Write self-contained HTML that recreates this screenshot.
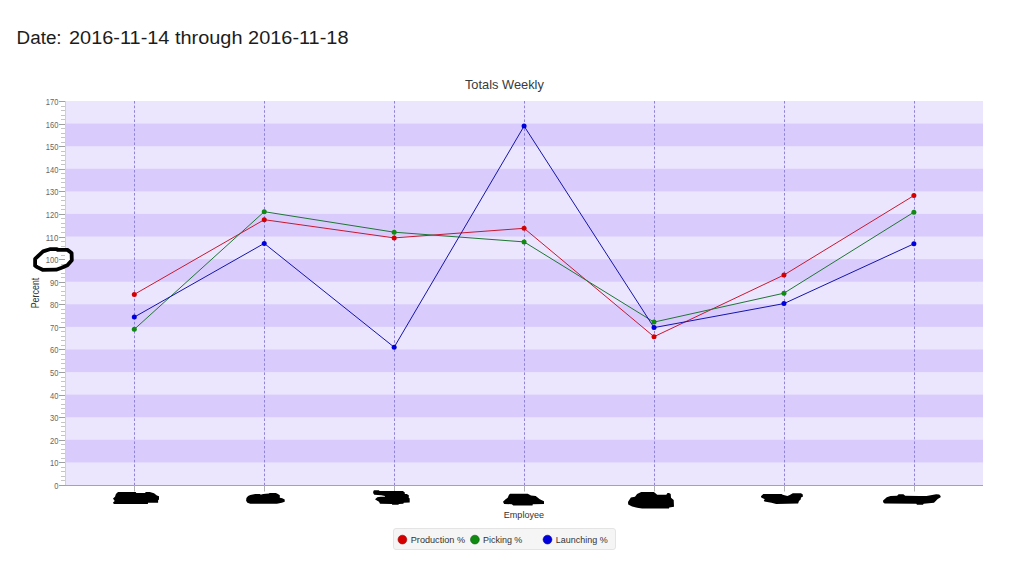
<!DOCTYPE html><html><head><meta charset="utf-8"><title>Totals Weekly</title><style>html,body{margin:0;padding:0;background:#fff;overflow:hidden}svg{display:block}text{font-family:"Liberation Sans",Arial,sans-serif}</style></head><body>
<svg width="1017" height="562" viewBox="0 0 1017 562">
<rect width="1017" height="562" fill="#fff"/>
<text x="16.6" y="43.9" font-size="18" fill="#1c1c1c" textLength="45" lengthAdjust="spacingAndGlyphs">Date:</text>
<text x="69" y="43.9" font-size="18" fill="#1c1c1c" textLength="279.5" lengthAdjust="spacingAndGlyphs">2016-11-14 through 2016-11-18</text>
<text x="464.9" y="88.9" font-size="12.4" fill="#3a3a3a" textLength="79" lengthAdjust="spacingAndGlyphs">Totals Weekly</text>
<rect x="65" y="101" width="918" height="384" fill="#ebe5fd"/>
<rect x="65" y="439.82" width="918" height="22.59" fill="#d9ccfc"/>
<rect x="65" y="394.65" width="918" height="22.59" fill="#d9ccfc"/>
<rect x="65" y="349.47" width="918" height="22.59" fill="#d9ccfc"/>
<rect x="65" y="304.29" width="918" height="22.59" fill="#d9ccfc"/>
<rect x="65" y="259.12" width="918" height="22.59" fill="#d9ccfc"/>
<rect x="65" y="213.94" width="918" height="22.59" fill="#d9ccfc"/>
<rect x="65" y="168.76" width="918" height="22.59" fill="#d9ccfc"/>
<rect x="65" y="123.59" width="918" height="22.59" fill="#d9ccfc"/>
<line x1="134.5" y1="101" x2="134.5" y2="485" stroke="#9084d8" stroke-width="1" stroke-dasharray="2.6,2"/>
<line x1="264.5" y1="101" x2="264.5" y2="485" stroke="#9084d8" stroke-width="1" stroke-dasharray="2.6,2"/>
<line x1="394.5" y1="101" x2="394.5" y2="485" stroke="#9084d8" stroke-width="1" stroke-dasharray="2.6,2"/>
<line x1="524.5" y1="101" x2="524.5" y2="485" stroke="#9084d8" stroke-width="1" stroke-dasharray="2.6,2"/>
<line x1="654.5" y1="101" x2="654.5" y2="485" stroke="#9084d8" stroke-width="1" stroke-dasharray="2.6,2"/>
<line x1="784.5" y1="101" x2="784.5" y2="485" stroke="#9084d8" stroke-width="1" stroke-dasharray="2.6,2"/>
<line x1="914.5" y1="101" x2="914.5" y2="485" stroke="#9084d8" stroke-width="1" stroke-dasharray="2.6,2"/>
<line x1="65" y1="485.5" x2="983" y2="485.5" stroke="#a4a2b0" stroke-width="1"/>
<line x1="65.5" y1="101" x2="65.5" y2="485" stroke="#d0cce6" stroke-width="1"/>
<line x1="59" y1="485.50" x2="65" y2="485.50" stroke="#a0a0a0" stroke-width="1"/>
<line x1="61" y1="480.50" x2="65" y2="480.50" stroke="#c4c4c4" stroke-width="1"/>
<line x1="61" y1="476.50" x2="65" y2="476.50" stroke="#c4c4c4" stroke-width="1"/>
<line x1="61" y1="471.50" x2="65" y2="471.50" stroke="#c4c4c4" stroke-width="1"/>
<line x1="61" y1="467.50" x2="65" y2="467.50" stroke="#c4c4c4" stroke-width="1"/>
<line x1="59" y1="462.50" x2="65" y2="462.50" stroke="#a0a0a0" stroke-width="1"/>
<line x1="61" y1="458.50" x2="65" y2="458.50" stroke="#c4c4c4" stroke-width="1"/>
<line x1="61" y1="453.50" x2="65" y2="453.50" stroke="#c4c4c4" stroke-width="1"/>
<line x1="61" y1="449.50" x2="65" y2="449.50" stroke="#c4c4c4" stroke-width="1"/>
<line x1="61" y1="444.50" x2="65" y2="444.50" stroke="#c4c4c4" stroke-width="1"/>
<line x1="59" y1="440.50" x2="65" y2="440.50" stroke="#a0a0a0" stroke-width="1"/>
<line x1="61" y1="435.50" x2="65" y2="435.50" stroke="#c4c4c4" stroke-width="1"/>
<line x1="61" y1="431.50" x2="65" y2="431.50" stroke="#c4c4c4" stroke-width="1"/>
<line x1="61" y1="426.50" x2="65" y2="426.50" stroke="#c4c4c4" stroke-width="1"/>
<line x1="61" y1="422.50" x2="65" y2="422.50" stroke="#c4c4c4" stroke-width="1"/>
<line x1="59" y1="417.50" x2="65" y2="417.50" stroke="#a0a0a0" stroke-width="1"/>
<line x1="61" y1="413.50" x2="65" y2="413.50" stroke="#c4c4c4" stroke-width="1"/>
<line x1="61" y1="408.50" x2="65" y2="408.50" stroke="#c4c4c4" stroke-width="1"/>
<line x1="61" y1="404.50" x2="65" y2="404.50" stroke="#c4c4c4" stroke-width="1"/>
<line x1="61" y1="399.50" x2="65" y2="399.50" stroke="#c4c4c4" stroke-width="1"/>
<line x1="59" y1="395.50" x2="65" y2="395.50" stroke="#a0a0a0" stroke-width="1"/>
<line x1="61" y1="390.50" x2="65" y2="390.50" stroke="#c4c4c4" stroke-width="1"/>
<line x1="61" y1="386.50" x2="65" y2="386.50" stroke="#c4c4c4" stroke-width="1"/>
<line x1="61" y1="381.50" x2="65" y2="381.50" stroke="#c4c4c4" stroke-width="1"/>
<line x1="61" y1="377.50" x2="65" y2="377.50" stroke="#c4c4c4" stroke-width="1"/>
<line x1="59" y1="372.50" x2="65" y2="372.50" stroke="#a0a0a0" stroke-width="1"/>
<line x1="61" y1="368.50" x2="65" y2="368.50" stroke="#c4c4c4" stroke-width="1"/>
<line x1="61" y1="363.50" x2="65" y2="363.50" stroke="#c4c4c4" stroke-width="1"/>
<line x1="61" y1="359.50" x2="65" y2="359.50" stroke="#c4c4c4" stroke-width="1"/>
<line x1="61" y1="354.50" x2="65" y2="354.50" stroke="#c4c4c4" stroke-width="1"/>
<line x1="59" y1="349.50" x2="65" y2="349.50" stroke="#a0a0a0" stroke-width="1"/>
<line x1="61" y1="345.50" x2="65" y2="345.50" stroke="#c4c4c4" stroke-width="1"/>
<line x1="61" y1="340.50" x2="65" y2="340.50" stroke="#c4c4c4" stroke-width="1"/>
<line x1="61" y1="336.50" x2="65" y2="336.50" stroke="#c4c4c4" stroke-width="1"/>
<line x1="61" y1="331.50" x2="65" y2="331.50" stroke="#c4c4c4" stroke-width="1"/>
<line x1="59" y1="327.50" x2="65" y2="327.50" stroke="#a0a0a0" stroke-width="1"/>
<line x1="61" y1="322.50" x2="65" y2="322.50" stroke="#c4c4c4" stroke-width="1"/>
<line x1="61" y1="318.50" x2="65" y2="318.50" stroke="#c4c4c4" stroke-width="1"/>
<line x1="61" y1="313.50" x2="65" y2="313.50" stroke="#c4c4c4" stroke-width="1"/>
<line x1="61" y1="309.50" x2="65" y2="309.50" stroke="#c4c4c4" stroke-width="1"/>
<line x1="59" y1="304.50" x2="65" y2="304.50" stroke="#a0a0a0" stroke-width="1"/>
<line x1="61" y1="300.50" x2="65" y2="300.50" stroke="#c4c4c4" stroke-width="1"/>
<line x1="61" y1="295.50" x2="65" y2="295.50" stroke="#c4c4c4" stroke-width="1"/>
<line x1="61" y1="291.50" x2="65" y2="291.50" stroke="#c4c4c4" stroke-width="1"/>
<line x1="61" y1="286.50" x2="65" y2="286.50" stroke="#c4c4c4" stroke-width="1"/>
<line x1="59" y1="282.50" x2="65" y2="282.50" stroke="#a0a0a0" stroke-width="1"/>
<line x1="61" y1="277.50" x2="65" y2="277.50" stroke="#c4c4c4" stroke-width="1"/>
<line x1="61" y1="273.50" x2="65" y2="273.50" stroke="#c4c4c4" stroke-width="1"/>
<line x1="61" y1="268.50" x2="65" y2="268.50" stroke="#c4c4c4" stroke-width="1"/>
<line x1="61" y1="264.50" x2="65" y2="264.50" stroke="#c4c4c4" stroke-width="1"/>
<line x1="59" y1="259.50" x2="65" y2="259.50" stroke="#a0a0a0" stroke-width="1"/>
<line x1="61" y1="255.50" x2="65" y2="255.50" stroke="#c4c4c4" stroke-width="1"/>
<line x1="61" y1="250.50" x2="65" y2="250.50" stroke="#c4c4c4" stroke-width="1"/>
<line x1="61" y1="246.50" x2="65" y2="246.50" stroke="#c4c4c4" stroke-width="1"/>
<line x1="61" y1="241.50" x2="65" y2="241.50" stroke="#c4c4c4" stroke-width="1"/>
<line x1="59" y1="237.50" x2="65" y2="237.50" stroke="#a0a0a0" stroke-width="1"/>
<line x1="61" y1="232.50" x2="65" y2="232.50" stroke="#c4c4c4" stroke-width="1"/>
<line x1="61" y1="227.50" x2="65" y2="227.50" stroke="#c4c4c4" stroke-width="1"/>
<line x1="61" y1="223.50" x2="65" y2="223.50" stroke="#c4c4c4" stroke-width="1"/>
<line x1="61" y1="218.50" x2="65" y2="218.50" stroke="#c4c4c4" stroke-width="1"/>
<line x1="59" y1="214.50" x2="65" y2="214.50" stroke="#a0a0a0" stroke-width="1"/>
<line x1="61" y1="209.50" x2="65" y2="209.50" stroke="#c4c4c4" stroke-width="1"/>
<line x1="61" y1="205.50" x2="65" y2="205.50" stroke="#c4c4c4" stroke-width="1"/>
<line x1="61" y1="200.50" x2="65" y2="200.50" stroke="#c4c4c4" stroke-width="1"/>
<line x1="61" y1="196.50" x2="65" y2="196.50" stroke="#c4c4c4" stroke-width="1"/>
<line x1="59" y1="191.50" x2="65" y2="191.50" stroke="#a0a0a0" stroke-width="1"/>
<line x1="61" y1="187.50" x2="65" y2="187.50" stroke="#c4c4c4" stroke-width="1"/>
<line x1="61" y1="182.50" x2="65" y2="182.50" stroke="#c4c4c4" stroke-width="1"/>
<line x1="61" y1="178.50" x2="65" y2="178.50" stroke="#c4c4c4" stroke-width="1"/>
<line x1="61" y1="173.50" x2="65" y2="173.50" stroke="#c4c4c4" stroke-width="1"/>
<line x1="59" y1="169.50" x2="65" y2="169.50" stroke="#a0a0a0" stroke-width="1"/>
<line x1="61" y1="164.50" x2="65" y2="164.50" stroke="#c4c4c4" stroke-width="1"/>
<line x1="61" y1="160.50" x2="65" y2="160.50" stroke="#c4c4c4" stroke-width="1"/>
<line x1="61" y1="155.50" x2="65" y2="155.50" stroke="#c4c4c4" stroke-width="1"/>
<line x1="61" y1="151.50" x2="65" y2="151.50" stroke="#c4c4c4" stroke-width="1"/>
<line x1="59" y1="146.50" x2="65" y2="146.50" stroke="#a0a0a0" stroke-width="1"/>
<line x1="61" y1="142.50" x2="65" y2="142.50" stroke="#c4c4c4" stroke-width="1"/>
<line x1="61" y1="137.50" x2="65" y2="137.50" stroke="#c4c4c4" stroke-width="1"/>
<line x1="61" y1="133.50" x2="65" y2="133.50" stroke="#c4c4c4" stroke-width="1"/>
<line x1="61" y1="128.50" x2="65" y2="128.50" stroke="#c4c4c4" stroke-width="1"/>
<line x1="59" y1="124.50" x2="65" y2="124.50" stroke="#a0a0a0" stroke-width="1"/>
<line x1="61" y1="119.50" x2="65" y2="119.50" stroke="#c4c4c4" stroke-width="1"/>
<line x1="61" y1="115.50" x2="65" y2="115.50" stroke="#c4c4c4" stroke-width="1"/>
<line x1="61" y1="110.50" x2="65" y2="110.50" stroke="#c4c4c4" stroke-width="1"/>
<line x1="61" y1="106.50" x2="65" y2="106.50" stroke="#c4c4c4" stroke-width="1"/>
<line x1="59" y1="101.50" x2="65" y2="101.50" stroke="#a0a0a0" stroke-width="1"/>
<text x="58.4" y="488.60" font-size="8.2" fill="#666" text-anchor="end" textLength="4.2" lengthAdjust="spacingAndGlyphs">0</text>
<text x="58.4" y="465.60" font-size="8.2" fill="#666" text-anchor="end" textLength="8.4" lengthAdjust="spacingAndGlyphs">10</text>
<text x="58.4" y="443.60" font-size="8.2" fill="#666" text-anchor="end" textLength="8.4" lengthAdjust="spacingAndGlyphs">20</text>
<text x="58.4" y="420.60" font-size="8.2" fill="#666" text-anchor="end" textLength="8.4" lengthAdjust="spacingAndGlyphs">30</text>
<text x="58.4" y="398.60" font-size="8.2" fill="#666" text-anchor="end" textLength="8.4" lengthAdjust="spacingAndGlyphs">40</text>
<text x="58.4" y="375.60" font-size="8.2" fill="#666" text-anchor="end" textLength="8.4" lengthAdjust="spacingAndGlyphs">50</text>
<text x="58.4" y="352.60" font-size="8.2" fill="#666" text-anchor="end" textLength="8.4" lengthAdjust="spacingAndGlyphs">60</text>
<text x="58.4" y="330.60" font-size="8.2" fill="#666" text-anchor="end" textLength="8.4" lengthAdjust="spacingAndGlyphs">70</text>
<text x="58.4" y="307.60" font-size="8.2" fill="#666" text-anchor="end" textLength="8.4" lengthAdjust="spacingAndGlyphs">80</text>
<text x="58.4" y="285.60" font-size="8.2" fill="#666" text-anchor="end" textLength="8.4" lengthAdjust="spacingAndGlyphs">90</text>
<text x="58.4" y="262.60" font-size="8.2" fill="#666" text-anchor="end" textLength="12.6" lengthAdjust="spacingAndGlyphs">100</text>
<text x="58.4" y="240.60" font-size="8.2" fill="#666" text-anchor="end" textLength="12.6" lengthAdjust="spacingAndGlyphs">110</text>
<text x="58.4" y="217.60" font-size="8.2" fill="#666" text-anchor="end" textLength="12.6" lengthAdjust="spacingAndGlyphs">120</text>
<text x="58.4" y="194.60" font-size="8.2" fill="#666" text-anchor="end" textLength="12.6" lengthAdjust="spacingAndGlyphs">130</text>
<text x="58.4" y="172.60" font-size="8.2" fill="#666" text-anchor="end" textLength="12.6" lengthAdjust="spacingAndGlyphs">140</text>
<text x="58.4" y="149.60" font-size="8.2" fill="#666" text-anchor="end" textLength="12.6" lengthAdjust="spacingAndGlyphs">150</text>
<text x="58.4" y="127.60" font-size="8.2" fill="#666" text-anchor="end" textLength="12.6" lengthAdjust="spacingAndGlyphs">160</text>
<text x="58.4" y="104.60" font-size="8.2" fill="#666" text-anchor="end" textLength="12.6" lengthAdjust="spacingAndGlyphs">170</text>
<line x1="134.5" y1="485" x2="134.5" y2="491.5" stroke="#b0b0b0" stroke-width="1"/>
<line x1="264.5" y1="485" x2="264.5" y2="491.5" stroke="#b0b0b0" stroke-width="1"/>
<line x1="394.5" y1="485" x2="394.5" y2="491.5" stroke="#b0b0b0" stroke-width="1"/>
<line x1="524.5" y1="485" x2="524.5" y2="491.5" stroke="#b0b0b0" stroke-width="1"/>
<line x1="654.5" y1="485" x2="654.5" y2="491.5" stroke="#b0b0b0" stroke-width="1"/>
<line x1="784.5" y1="485" x2="784.5" y2="491.5" stroke="#b0b0b0" stroke-width="1"/>
<line x1="914.5" y1="485" x2="914.5" y2="491.5" stroke="#b0b0b0" stroke-width="1"/>
<text transform="translate(38.7,308.3) rotate(-90)" font-size="10" fill="#333" textLength="30.6" lengthAdjust="spacingAndGlyphs">Percent</text>
<text x="503.8" y="517.7" font-size="8.9" fill="#333" textLength="40.2" lengthAdjust="spacingAndGlyphs">Employee</text>
<polyline points="134.30,294.40 264.23,219.70 394.16,237.90 524.09,228.30 654.02,336.70 783.95,275.00 913.88,195.60" fill="none" stroke="#c81830" stroke-width="1" stroke-linejoin="round"/>
<polyline points="134.30,329.30 264.23,211.70 394.16,232.20 524.09,241.90 654.02,322.10 783.95,293.20 913.88,212.20" fill="none" stroke="#1e7634" stroke-width="1" stroke-linejoin="round"/>
<polyline points="134.30,317.10 264.23,243.40 394.16,347.20 524.09,126.10 654.02,327.60 783.95,303.60 913.88,243.80" fill="none" stroke="#1414ac" stroke-width="1" stroke-linejoin="round"/>
<circle cx="134.30" cy="294.40" r="2.5" fill="#d40000"/>
<circle cx="264.23" cy="219.70" r="2.5" fill="#d40000"/>
<circle cx="394.16" cy="237.90" r="2.5" fill="#d40000"/>
<circle cx="524.09" cy="228.30" r="2.5" fill="#d40000"/>
<circle cx="654.02" cy="336.70" r="2.5" fill="#d40000"/>
<circle cx="783.95" cy="275.00" r="2.5" fill="#d40000"/>
<circle cx="913.88" cy="195.60" r="2.5" fill="#d40000"/>
<circle cx="134.30" cy="329.30" r="2.5" fill="#108a10"/>
<circle cx="264.23" cy="211.70" r="2.5" fill="#108a10"/>
<circle cx="394.16" cy="232.20" r="2.5" fill="#108a10"/>
<circle cx="524.09" cy="241.90" r="2.5" fill="#108a10"/>
<circle cx="654.02" cy="322.10" r="2.5" fill="#108a10"/>
<circle cx="783.95" cy="293.20" r="2.5" fill="#108a10"/>
<circle cx="913.88" cy="212.20" r="2.5" fill="#108a10"/>
<circle cx="134.30" cy="317.10" r="2.5" fill="#0000dc"/>
<circle cx="264.23" cy="243.40" r="2.5" fill="#0000dc"/>
<circle cx="394.16" cy="347.20" r="2.5" fill="#0000dc"/>
<circle cx="524.09" cy="126.10" r="2.5" fill="#0000dc"/>
<circle cx="654.02" cy="327.60" r="2.5" fill="#0000dc"/>
<circle cx="783.95" cy="303.60" r="2.5" fill="#0000dc"/>
<circle cx="913.88" cy="243.80" r="2.5" fill="#0000dc"/>
<path d="M118.0,492.1 L135.7,492.1 L136.3,493.0 L145.1,493.0 L145.7,492.1 L149.8,492.1 L154.0,493.3 L156.9,495.6 L159.0,496.2 L159.0,499.5 L158.1,500.2 L158.1,502.7 L148.1,502.7 L147.8,503.9 L113.8,503.9 L113.0,502.4 L114.7,500.9 L113.0,498.6 L115.0,496.8 L115.9,494.1 Z" fill="#000"/>
<path d="M246.4,498.0 L248.1,496.1 L250.3,495.1 L255.2,494.1 L260.2,494.1 L260.6,494.8 L263.1,494.1 L269.0,493.4 L269.5,492.9 L275.9,492.9 L277.9,494.1 L279.8,495.3 L279.8,497.8 L282.3,498.3 L284.7,499.5 L284.7,501.7 L281.8,502.7 L276.9,503.7 L250.3,503.7 L247.4,502.7 L246.1,500.7 Z" fill="#000"/>
<path d="M374.1,490.2 L378.8,490.2 L379.7,491.1 L402.9,491.1 L404.8,492.4 L404.8,494.1 L406.8,494.1 L408.8,495.3 L408.8,498.0 L409.7,498.3 L409.7,502.5 L403.8,502.7 L403.3,503.7 L398.9,503.9 L398.4,504.7 L392.3,504.7 L391.8,503.9 L380.0,503.7 L379.0,501.7 L375.6,499.7 L375.1,499.3 L377.3,497.3 L380.7,496.8 L384.9,496.8 L384.9,496.1 L381.2,495.3 L374.3,494.8 L373.1,492.9 L373.4,490.9 Z" fill="#000"/>
<path d="M510.0,493.8 L527.7,493.8 L531.0,495.6 L535.7,495.9 L539.8,499.2 L544.0,501.2 L544.0,503.9 L532.8,504.2 L532.5,505.6 L513.3,505.6 L511.8,504.2 L504.1,503.9 L503.0,501.8 L505.3,499.5 L507.7,497.7 L508.9,495.0 Z" fill="#000"/>
<path d="M641.2,492.1 L653.9,492.1 L657.2,494.7 L666.3,494.7 L667.5,493.0 L669.0,493.0 L670.7,494.1 L671.0,497.7 L673.7,500.0 L674.0,506.8 L669.2,507.4 L669.0,508.6 L642.1,508.6 L637.1,507.7 L632.1,506.5 L628.2,504.5 L628.0,502.1 L629.4,499.7 L630.9,497.4 L635.0,496.8 L637.1,494.1 Z" fill="#000"/>
<path d="M763.3,494.1 L781.5,494.1 L782.7,494.7 L787.4,495.9 L789.8,495.0 L792.8,493.3 L801.0,493.3 L802.8,494.4 L802.8,496.8 L801.0,497.4 L800.7,499.5 L799.0,500.9 L798.1,503.6 L776.2,503.9 L771.5,502.7 L764.4,501.5 L763.8,500.0 L765.0,499.2 L761.5,497.7 L760.9,496.2 Z" fill="#000"/>
<path d="M883.1,500.5 L886.8,497.2 L890.5,496.1 L897.1,495.7 L898.6,494.2 L903.4,494.2 L905.2,495.7 L919.2,496.1 L926.6,496.1 L936.2,494.2 L939.2,494.6 L940.6,496.1 L940.6,497.2 L937.7,499.0 L934.0,502.7 L923.7,503.8 L922.9,504.8 L917.0,504.8 L916.3,503.8 L884.6,503.4 L883.1,502.3 Z" fill="#000"/>
<path d="M35.1,258.8 L43.1,251.4 L49.8,249.2 L57.0,249.2 L57.7,249.9 L67.4,249.9 L71.6,253.0 L71.8,260.2 L67.4,265.3 L61.0,268.0 L56.2,269.7 L42.6,269.8 L37.2,267.1 L35.1,265.7 Z" fill="#fff" stroke="none"/>
<line x1="61" y1="268.50" x2="65" y2="268.50" stroke="#c4c4c4" stroke-width="1"/>
<line x1="61" y1="264.50" x2="65" y2="264.50" stroke="#c4c4c4" stroke-width="1"/>
<line x1="59" y1="259.50" x2="65" y2="259.50" stroke="#a0a0a0" stroke-width="1"/>
<line x1="61" y1="255.50" x2="65" y2="255.50" stroke="#c4c4c4" stroke-width="1"/>
<line x1="61" y1="250.50" x2="65" y2="250.50" stroke="#c4c4c4" stroke-width="1"/>
<text x="58.4" y="262.60" font-size="8.2" fill="#666" text-anchor="end" textLength="12.6" lengthAdjust="spacingAndGlyphs">100</text>
<path d="M35.1,258.8 L43.1,251.4 L49.8,249.2 L57.0,249.2 L57.7,249.9 L67.4,249.9 L71.6,253.0 L71.8,260.2 L67.4,265.3 L61.0,268.0 L56.2,269.7 L42.6,269.8 L37.2,267.1 L35.1,265.7 Z" fill="none" stroke="#000" stroke-width="3.8" stroke-linejoin="round"/>
<rect x="393.5" y="528.5" width="222" height="21" rx="2.5" fill="#f5f5f5" stroke="#e4e4e4" stroke-width="1"/>
<circle cx="402.4" cy="539.6" r="4.4" fill="#d40000" stroke="#a00000" stroke-width="0.6"/>
<circle cx="474.9" cy="539.6" r="4.4" fill="#108a10" stroke="#0a5a0a" stroke-width="0.6"/>
<circle cx="547.5" cy="539.6" r="4.4" fill="#0000dc" stroke="#00009a" stroke-width="0.6"/>
<text x="410.8" y="542.8" font-size="9" fill="#333" textLength="54.2" lengthAdjust="spacingAndGlyphs">Production %</text>
<text x="483.0" y="542.8" font-size="9" fill="#333" textLength="39.3" lengthAdjust="spacingAndGlyphs">Picking %</text>
<text x="555.8" y="542.8" font-size="9" fill="#333" textLength="51.8" lengthAdjust="spacingAndGlyphs">Launching %</text>
</svg></body></html>
